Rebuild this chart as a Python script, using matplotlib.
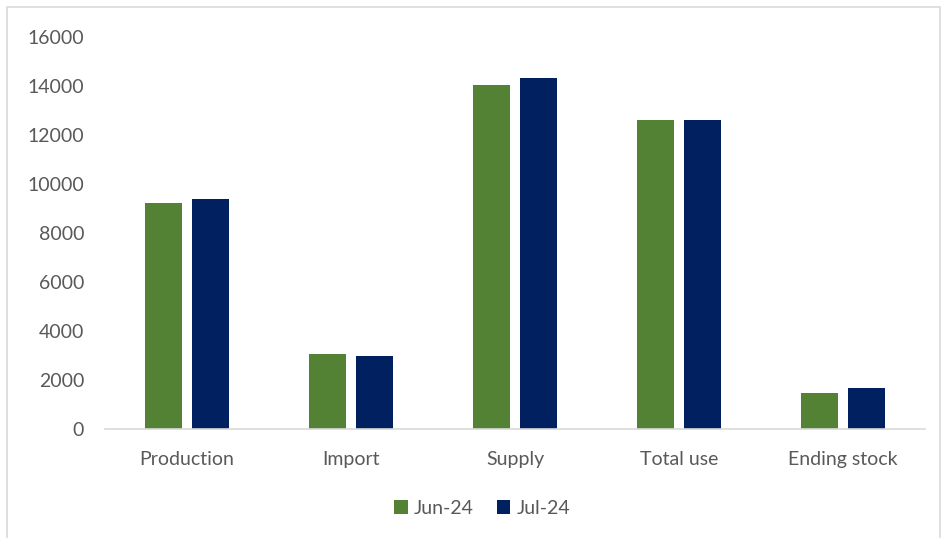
import numpy as np
import matplotlib.pyplot as plt
from matplotlib.patches import Rectangle

categories = ['Production', 'Import', 'Supply', 'Total use', 'Ending stock']
jun_24 = [9220, 3050, 14040, 12620, 1460]
jul_24 = [9380, 2970, 14330, 12620, 1690]
series_names = ['Jun-24', 'Jul-24']
yticks = [0, 2000, 4000, 6000, 8000, 10000, 12000, 14000, 16000]

plt.rcParams['font.family'] = ['Lato', 'DejaVu Sans']
text_color = '#595959'
fs = 14

fig = plt.figure(figsize=(9.45, 5.38), dpi=100)
ax = fig.add_axes([105 / 945, (538 - 429) / 538, 820 / 945, (429 - 37.4) / 538])

x = np.arange(len(categories))
w = 0.225
off = 0.143
ax.bar(x - off, jun_24, w, color='#548235', label=series_names[0])
ax.bar(x + off, jul_24, w, color='#002060', label=series_names[1])

ax.set_xlim(-0.5, 4.5)
ax.set_ylim(0, 16000)
ax.set_yticks(yticks)
ax.set_yticklabels([str(v) for v in yticks])
ax.set_xticks(x)
ax.set_xticklabels(categories)
ax.tick_params(axis='both', length=0, colors=text_color, labelsize=fs)
ax.tick_params(axis='y', pad=15)
ax.tick_params(axis='x', pad=15.5)

for s in ['top', 'right', 'left']:
    ax.spines[s].set_visible(False)
ax.spines['bottom'].set_color('#d9d9d9')
ax.spines['bottom'].set_linewidth(1.2)

leg = fig.legend(loc='center', bbox_to_anchor=(482 / 945, 1 - 508 / 538), ncol=2,
                 frameon=False, fontsize=fs, handlelength=0.7, handleheight=0.7,
                 handletextpad=0.3, columnspacing=1.2)
for t in leg.get_texts():
    t.set_color(text_color)

fig.patches.append(Rectangle((7 / 945, -0.01), 933 / 945, 1 - 7 / 538 + 0.01,
                             transform=fig.transFigure, fill=False,
                             edgecolor='#d9d9d9', linewidth=1.2))

fig.savefig('out.png', dpi=100)
